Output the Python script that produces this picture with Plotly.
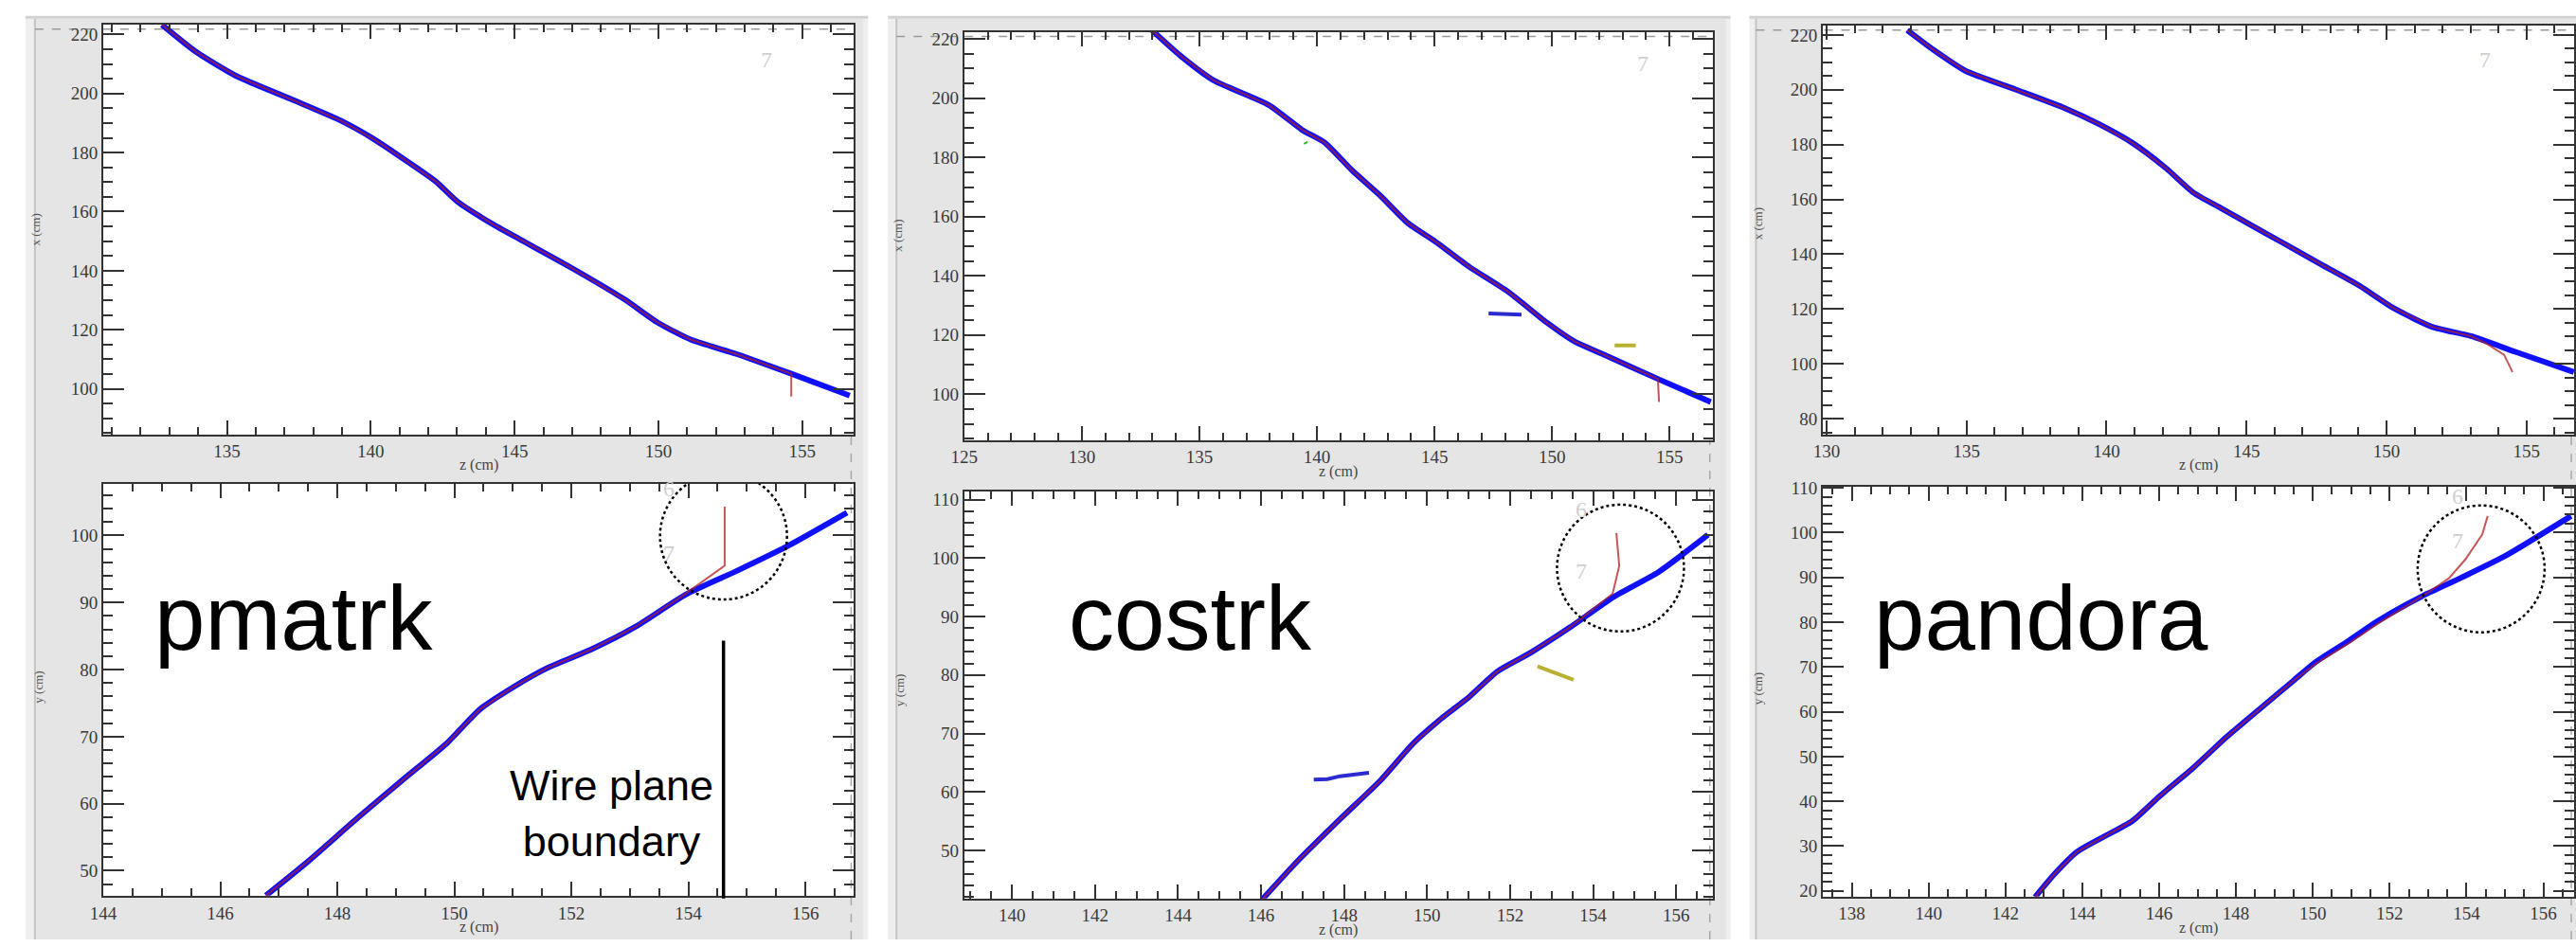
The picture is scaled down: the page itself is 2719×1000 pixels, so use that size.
import plotly.graph_objects as go

W, H = 2719, 1000

# ---------------- data ----------------
# pmatrk, x-z view
pm_xz_blue_z = [132.74, 133.94, 135.29, 137.2, 138.96, 140.12, 141.09, 142.25, 143.0, 144.18, 145.15, 146.9, 148.82, 149.98, 151.14, 152.68, 154.62, 156.65]
pm_xz_blue_x = [223.3, 214.0, 206.1, 198.2, 190.8, 184.5, 178.2, 170.3, 163.5, 156.1, 150.8, 141.4, 130.3, 122.4, 116.6, 111.9, 105.1, 97.7]
pm_xz_red_z = [132.74, 133.94, 135.29, 137.2, 138.96, 140.12, 141.09, 142.25, 143.0, 144.18, 145.15, 146.9, 148.82, 149.98, 151.14, 152.68, 154.62, 154.62]
pm_xz_red_x = [223.3, 214.0, 206.1, 198.2, 190.8, 184.5, 178.2, 170.3, 163.5, 156.1, 150.8, 141.4, 130.3, 122.4, 116.6, 111.9, 105.1, 97.4]
# pmatrk, y-z view
pm_yz_blue_z = [146.78, 147.5, 148.35, 149.11, 149.87, 150.44, 151.01, 151.58, 152.34, 153.1, 153.96, 154.8, 155.67, 156.71]
pm_yz_blue_y = [46.3, 51.4, 57.9, 63.5, 69.0, 74.1, 77.4, 80.2, 83.0, 86.4, 91.2, 94.6, 98.3, 103.4]
pm_yz_red_z = [146.78, 147.5, 148.35, 149.11, 149.87, 150.44, 151.01, 151.58, 152.34, 153.1, 153.9, 154.62, 154.62]
pm_yz_red_y = [46.3, 51.4, 57.9, 63.5, 69.0, 74.1, 77.4, 80.2, 83.0, 86.4, 91.0, 95.5, 104.3]

# costrk, x-z view
co_xz_blue_z = [132.99, 134.17, 135.59, 137.95, 139.37, 140.32, 141.5, 142.68, 143.87, 145.05, 146.47, 148.12, 149.78, 150.96, 152.14, 154.5, 156.75]
co_xz_blue_x = [222.9, 214.5, 206.1, 197.7, 189.3, 185.1, 175.6, 167.2, 157.8, 151.5, 143.1, 134.7, 124.2, 117.8, 113.6, 105.2, 97.4]
co_xz_red_z = [132.99, 134.17, 135.59, 137.95, 139.37, 140.32, 141.5, 142.68, 143.87, 145.05, 146.47, 148.12, 149.78, 150.96, 152.14, 154.5, 154.55]
co_xz_red_x = [222.9, 214.5, 206.1, 197.7, 189.3, 185.1, 175.6, 167.2, 157.8, 151.5, 143.1, 134.7, 124.2, 117.8, 113.6, 105.2, 97.4]
co_xz_seg_blue_z = [147.3, 148.0, 148.7]
co_xz_seg_blue_x = [127.3, 127.2, 126.9]
co_xz_seg_yel_z = [152.66, 153.56]
co_xz_seg_yel_x = [116.5, 116.5]
co_xz_green_z = [139.45, 139.6]
co_xz_green_x = [184.6, 185.2]
# costrk, y-z view
co_yz_blue_z = [146.04, 146.87, 147.94, 148.88, 149.68, 150.35, 151.02, 151.69, 152.49, 153.43, 154.5, 155.57, 156.77]
co_yz_blue_y = [41.7, 48.1, 55.6, 62.0, 68.4, 72.6, 76.3, 80.6, 83.8, 88.1, 93.4, 97.6, 104.0]
co_yz_red_z = [146.04, 146.87, 147.94, 148.88, 149.68, 150.35, 151.02, 151.69, 152.49, 153.43, 154.47, 154.63, 154.56]
co_yz_red_y = [41.7, 48.1, 55.6, 62.0, 68.4, 72.6, 76.3, 80.6, 83.8, 88.1, 93.9, 98.7, 104.3]
co_yz_seg_blue_z = [147.27, 147.6, 147.9, 148.2, 148.6]
co_yz_seg_blue_y = [62.1, 62.2, 62.7, 63.0, 63.3]
co_yz_seg_yel_z = [152.66, 153.1, 153.53]
co_yz_seg_yel_y = [81.5, 80.3, 79.2]

# pandora, x-z view
pa_xz_blue_z = [132.88, 133.77, 134.96, 136.75, 138.53, 139.72, 140.91, 142.1, 143.1, 144.09, 145.08, 146.27, 147.66, 149.05, 150.24, 151.63, 153.02, 154.6, 156.69]
pa_xz_blue_x = [221.7, 214.9, 206.9, 200.1, 193.2, 187.5, 180.7, 171.6, 162.5, 156.8, 151.1, 144.3, 136.3, 128.4, 120.4, 113.5, 110.1, 104.4, 97.0]
pa_xz_red_z = [132.88, 133.77, 134.96, 136.75, 138.53, 139.72, 140.91, 142.1, 143.1, 144.09, 145.08, 146.27, 147.66, 149.05, 150.24, 151.63, 153.02, 153.6, 154.2, 154.5]
pa_xz_red_x = [221.7, 214.9, 206.9, 200.1, 193.2, 187.5, 180.7, 171.6, 162.5, 156.8, 151.1, 144.3, 136.3, 128.4, 120.4, 113.5, 110.1, 107.2, 103.3, 97.0]
# pandora, y-z view
pa_yz_blue_z = [142.77, 143.28, 143.86, 144.43, 145.3, 146.02, 146.89, 147.76, 148.63, 149.49, 150.07, 150.94, 151.66, 152.82, 153.83, 154.99, 156.72]
pa_yz_blue_y = [18.6, 23.8, 28.7, 31.5, 35.6, 41.2, 47.5, 54.4, 60.7, 66.9, 71.1, 75.9, 80.1, 85.7, 89.8, 94.7, 103.7]
pa_yz_red_z = [142.77, 143.28, 143.86, 144.43, 145.3, 146.02, 146.89, 147.76, 148.63, 149.49, 150.07, 150.94, 151.66, 152.96, 153.54, 153.97, 154.41, 154.55]
pa_yz_red_y = [18.6, 23.8, 28.7, 31.5, 35.6, 41.2, 47.5, 54.4, 60.7, 66.9, 70.7, 75.3, 79.5, 86.4, 89.8, 94.0, 99.6, 103.7]

# axis ranges and tick steps per panel
x_ranges = [[130.7, 156.8], [144.0, 156.83], [125.0, 156.83], [138.85, 156.88], [129.87, 156.7], [137.25, 156.8]]
y_ranges = [[84.6, 223.4], [46.3, 107.7], [84.6, 222.4], [41.8, 111.44], [74.3, 223.5], [18.75, 110.27]]
x_dticks = [5, 2, 5, 2, 5, 2]
x_minor = [1, 0.5, 1, 0.5, 1, 0.5]
y_dticks = [20, 10, 20, 10, 20, 10]
y_minor = [5, 2, 5, 2, 5, 2]
x_titles = ["z (cm)"] * 6
y_titles = ["x (cm)", "y (cm)", "x (cm)", "y (cm)", "x (cm)", "y (cm)"]
algo_names = ["pmatrk", "costrk", "pandora"]
circle_z = [154.6, 154.66, 154.38]
circle_y = [99.9, 98.3, 91.9]

# ---------------- layout geometry (pixels) ----------------
frames = [
    (95.5, 892, 17, 456), (95.5, 892, 509, 950),
    (1009, 1803, 25, 462), (1009, 1803, 517, 953),
    (1920, 2717, 18, 456), (1920, 2717, 512, 951),
]
panels_px = [(13, 907, 23, 902), (928, 1822, 937, 1817), (1842, 2719, 1849, 2719)]


def fx(p):
    return p / W


def fy(p):
    return 1 - p / H


fig = go.Figure()

BLUE = "#1010ff"
RED = "#b02020"

traces = [
    (0, pm_xz_blue_z, pm_xz_blue_x, pm_xz_red_z, pm_xz_red_x),
    (1, pm_yz_blue_z, pm_yz_blue_y, pm_yz_red_z, pm_yz_red_y),
    (2, co_xz_blue_z, co_xz_blue_x, co_xz_red_z, co_xz_red_x),
    (3, co_yz_blue_z, co_yz_blue_y, co_yz_red_z, co_yz_red_y),
    (4, pa_xz_blue_z, pa_xz_blue_x, pa_xz_red_z, pa_xz_red_x),
    (5, pa_yz_blue_z, pa_yz_blue_y, pa_yz_red_z, pa_yz_red_y),
]


def ax_names(i):
    s = "" if i == 0 else str(i + 1)
    return "x" + s, "y" + s


for i, bz, bv, rz, rv in traces:
    xa, ya = ax_names(i)
    fig.add_trace(go.Scatter(x=bz, y=bv, mode="lines", line=dict(color=BLUE, width=6, shape="spline", smoothing=0.6),
                             xaxis=xa, yaxis=ya, showlegend=False, hoverinfo="skip"))
    fig.add_trace(go.Scatter(x=rz, y=rv, mode="lines", line=dict(color=RED, width=2),
                             opacity=0.75, xaxis=xa, yaxis=ya, showlegend=False, hoverinfo="skip"))

# extra small clusters in costrk
extras = [
    (2, co_xz_seg_blue_z, co_xz_seg_blue_x, "#2b2bd0", 4),
    (2, co_xz_seg_yel_z, co_xz_seg_yel_x, "#b8b030", 4),
    (2, co_xz_green_z, co_xz_green_x, "#30b030", 2),
    (3, co_yz_seg_blue_z, co_yz_seg_blue_y, "#2b2bd0", 4),
    (3, co_yz_seg_yel_z, co_yz_seg_yel_y, "#b8b030", 4),
]
for i, zz, vv, c, w in extras:
    xa, ya = ax_names(i)
    fig.add_trace(go.Scatter(x=zz, y=vv, mode="lines", line=dict(color=c, width=w),
                             xaxis=xa, yaxis=ya, showlegend=False, hoverinfo="skip"))

layout = dict(width=W, height=H, margin=dict(l=0, r=0, t=0, b=0),
              paper_bgcolor="white", plot_bgcolor="rgba(0,0,0,0)", showlegend=False)

tickfont = dict(family="Liberation Serif", size=19, color="#3a3a3a")
for i, (x0, x1, y0, y1) in enumerate(frames):
    s = "" if i == 0 else str(i + 1)
    layout["xaxis" + s] = dict(
        domain=[fx(x0), fx(x1)], range=x_ranges[i], anchor="y" + s, dtick=x_dticks[i],
        ticks="inside", ticklen=15, tickwidth=2, tickcolor="#333", mirror="allticks",
        showline=True, linecolor="#333", linewidth=2, showgrid=False, zeroline=False,
        tickfont=tickfont,
        minor=dict(dtick=x_minor[i], ticks="inside", ticklen=8, tickwidth=1.5, tickcolor="#333"),
    )
    layout["yaxis" + s] = dict(
        domain=[fy(y1), fy(y0)], range=y_ranges[i], anchor="x" + s, dtick=y_dticks[i],
        ticks="inside", ticklen=22, tickwidth=2, tickcolor="#333", mirror="allticks",
        showline=True, linecolor="#333", linewidth=2, showgrid=False, zeroline=False,
        tickfont=tickfont,
        minor=dict(dtick=y_minor[i], ticks="inside", ticklen=10, tickwidth=1.5, tickcolor="#333"),
    )

shapes = []
# grey panels
for (a, b, c, d) in panels_px:
    shapes.append(dict(type="rect", xref="paper", yref="paper", x0=fx(a), x1=fx(b), y0=fy(997), y1=fy(8),
                       fillcolor="#efeff0", line=dict(width=0), layer="below"))
    shapes.append(dict(type="rect", xref="paper", yref="paper", x0=fx(c), x1=fx(d), y0=fy(997), y1=fy(11),
                       fillcolor="#e5e5e5", line=dict(width=0), layer="below"))
    shapes.append(dict(type="line", xref="paper", yref="paper", x0=fx(c), x1=fx(c), y0=fy(997), y1=fy(11),
                       line=dict(color="#c4c4c4", width=2), layer="below"))
    shapes.append(dict(type="line", xref="paper", yref="paper", x0=fx(a), x1=fx(b), y0=fy(9.5), y1=fy(9.5),
                       line=dict(color="#d2d2d2", width=3), layer="below"))
# white plot areas
for (x0, x1, y0, y1) in frames:
    shapes.append(dict(type="rect", xref="paper", yref="paper", x0=fx(x0), x1=fx(x1), y0=fy(y1), y1=fy(y0),
                       fillcolor="white", line=dict(width=0), layer="below"))
# dotted guide lines
for k in range(3):
    tx0, tx1, ty0, ty1 = frames[2 * k]
    a = panels_px[k][2]
    shapes.append(dict(type="line", xref="paper", yref="paper", x0=fx(a), x1=fx(tx1), y0=fy(ty0 + 5), y1=fy(ty0 + 5),
                       line=dict(color="#9a9a9a", width=1.5, dash="dash"), layer="below"))
    shapes.append(dict(type="line", xref="paper", yref="paper", x0=fx(tx1 - 3), x1=fx(tx1 - 3), y0=fy(997), y1=fy(ty1),
                       line=dict(color="#a8a8a8", width=1.5, dash="dash"), layer="below"))
# dotted circles around the end of the track
for k in range(3):
    s = str(2 * k + 2)
    shapes.append(dict(type="circle", xref="x" + s, yref="y" + s, xsizemode="pixel", ysizemode="pixel",
                       xanchor=circle_z[k], yanchor=circle_y[k], x0=-67, x1=67, y0=-67, y1=67,
                       line=dict(color="black", width=2.5, dash="dot"), layer="above"))
# wire plane boundary line
shapes.append(dict(type="line", xref="x2", yref="paper", x0=154.6, x1=154.6, y0=fy(677), y1=fy(953),
                   line=dict(color="black", width=3.5), layer="above"))
layout["shapes"] = shapes

ann = []
axt = dict(family="Liberation Serif", size=16, color="#444")
xt_y = [489, 984, 496, 987, 489, 985]
yt_pos = [(24, 237), (27, 727), (938, 243), (941, 730), (1851, 230), (1851, 728)]
for i, (x0, x1, y0, y1) in enumerate(frames):
    ann.append(dict(text=x_titles[i], xref="paper", yref="paper", x=fx((x0 + x1) / 2), y=fy(xt_y[i]),
                    showarrow=False, font=axt, xanchor="center", yanchor="middle"))
    ann.append(dict(text=y_titles[i], xref="paper", yref="paper", x=fx(yt_pos[i][0]), y=fy(yt_pos[i][1]),
                    showarrow=False, font=dict(family="Liberation Serif", size=13, color="#555"),
                    textangle=-90, xanchor="center", yanchor="middle"))
# algorithm labels
name_x = [148, 1118, 1972]
for k in range(3):
    ann.append(dict(text=algo_names[k], xref="paper", yref="paper", x=fx(name_x[k]), y=fy(653),
                    showarrow=False, font=dict(family="Liberation Sans", size=96, color="black"),
                    xanchor="left", yanchor="middle"))
ann.append(dict(text="Wire plane<br>boundary", xref="paper", yref="paper", x=fx(635), y=fy(862),
                showarrow=False, font=dict(family="Liberation Sans", size=45, color="black"),
                xanchor="center", yanchor="middle", align="center"))
# faint view labels
faint = [(799, 55, "7"), (1729, 59, "7"), (2623, 55, "7"),
         (696, 583, "7"), (696, 514, "6"), (1664, 602, "7"), (1664, 537, "6"), (2593, 570, "7"), (2593, 522, "6")]
for (px, py, t) in faint:
    ann.append(dict(text=t, xref="paper", yref="paper", x=fx(px), y=fy(py), showarrow=False,
                    font=dict(family="Liberation Serif", size=24, color="#cfcfcf"), xanchor="center", yanchor="middle"))
layout["annotations"] = ann

fig.update_layout(**layout)
fig.write_html("out.html", config={"displayModeBar": False},
               post_script="document.body.style.margin='0px';document.body.style.overflow='hidden';")
